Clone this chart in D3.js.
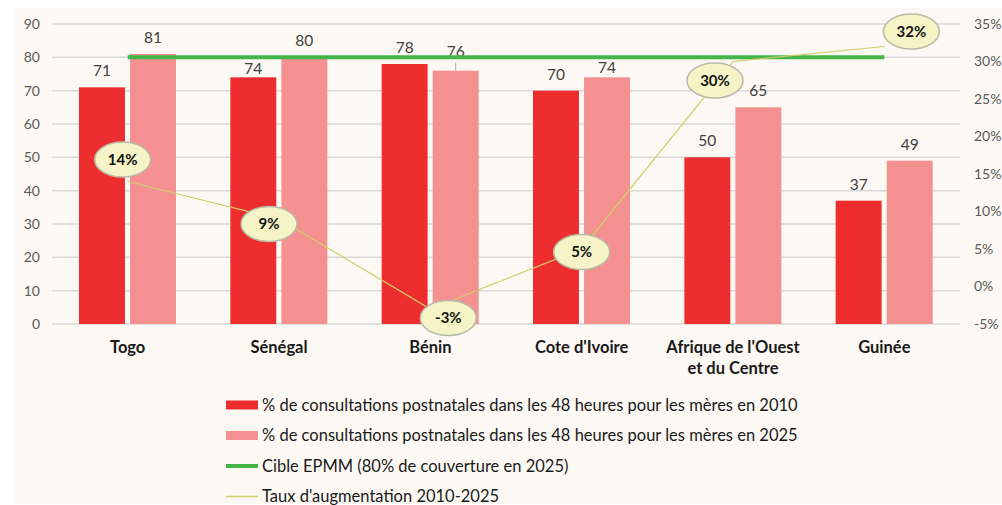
<!DOCTYPE html>
<html>
<head>
<meta charset="utf-8">
<script src="https://cdn.jsdelivr.net/npm/d3@7"></script>
<style>
  body { margin: 0; background: #fff; }
  svg { display: block; font-family: Lato, "Noto Sans", sans-serif; }
</style>
</head>
<body>
<svg id="chart" width="1002" height="505"></svg>
<script>
// postnatal consultations within 48h, 2010 vs 2025
var countries = ['Togo', 'Sénégal', 'Bénin', "Cote d'Ivoire", "Afrique de l'Ouest|et du Centre", 'Guinée'];
var val2010 = [71, 74, 78, 70, 50, 37];
var val2025 = [81, 80, 76, 74, 65, 49];
var target = 80;              // cible EPMM
var growth = [14, 9, -3, 5, 30, 32];  // taux d'augmentation (%)
var leftTicks = [0, 10, 20, 30, 40, 50, 60, 70, 80, 90];
var rightTicks = [-5, 0, 5, 10, 15, 20, 25, 30, 35];

// where Excel put the bubble labels relative to their points
var bubbleOffsets = [[-5, -22], [-10, 5], [18, 9], [0, 3], [-18, 19], [27, -15]];
// a few value labels were dragged by hand (px down, 2010 / 2025)
var nudge2010 = [0, 8, 0, 0, 0, 0];
var nudge2025 = [0, 0, -3, 7, 0, 0];

var colors = { y2010: '#ee2e2e', y2025: '#f49090', target: '#45b447', growth: '#cfcf6a' };

var svg = d3.select('#chart');

svg.append('rect')
  .attr('x', 14).attr('y', 8)
  .attr('width', 988).attr('height', 496)
  .attr('fill', '#fcf9f4');

var x = d3.scaleBand().domain(countries).range([52, 960]);
var x1 = d3.scaleBand().domain(['2010', '2025']).range([27, 124]).paddingInner(0.1);
var y = d3.scaleLinear().domain([0, 90]).range([324, 24]);
var y2 = d3.scaleLinear().domain([-5, 35]).range([324, 24]);

// gridlines
svg.append('g')
  .selectAll('line')
  .data(leftTicks)
  .join('line')
    .attr('x1', 52).attr('x2', 960)
    .attr('y1', function(d) { return y(d); })
    .attr('y2', function(d) { return y(d); })
    .attr('stroke', '#d9d9d9')
    .attr('stroke-width', 1.5);

// left axis
var yAxis = svg.append('g')
  .attr('transform', 'translate(52,0)')
  .call(d3.axisLeft(y).tickValues(leftTicks).tickSize(0).tickPadding(12));
yAxis.select('.domain').remove();
yAxis.selectAll('text').attr('fill', '#595959').style('font-size', '14px').style('font-family', 'Lato, sans-serif');

// right axis
var y2Axis = svg.append('g')
  .attr('transform', 'translate(960,0)')
  .call(d3.axisRight(y2).tickValues(rightTicks).tickSize(0).tickPadding(14)
    .tickFormat(function(d) { return d + '%'; }));
y2Axis.select('.domain').remove();
y2Axis.selectAll('text').attr('fill', '#595959').style('font-size', '14px').style('font-family', 'Lato, sans-serif');

// bars
var groups = svg.append('g')
  .selectAll('g')
  .data(countries)
  .join('g')
    .attr('transform', function(d) { return 'translate(' + x(d) + ',0)'; });

groups.each(function(c, i) {
  var g = d3.select(this);
  var pairs = [['2010', val2010[i], colors.y2010, nudge2010[i]], ['2025', val2025[i], colors.y2025, nudge2025[i]]];
  pairs.forEach(function(p) {
    var mid = x1(p[0]) + x1.bandwidth() / 2;
    g.append('rect')
      .attr('x', x1(p[0]))
      .attr('y', y(p[1]))
      .attr('width', x1.bandwidth())
      .attr('height', y(0) - y(p[1]))
      .attr('fill', p[2]);
    g.append('text')
      .attr('x', mid)
      .attr('y', y(p[1]) - 11 + p[3])
      .attr('text-anchor', 'middle')
      .attr('fill', '#404040')
      .style('font-size', '15.5px')
      .text(p[1]);
    if (p[3] < 0) {
      // leader line like excel draws for moved labels
      g.append('line')
        .attr('x1', mid).attr('x2', mid)
        .attr('y1', y(p[1]) - 8).attr('y2', y(p[1]))
        .attr('stroke', '#a6a6a6').attr('stroke-width', 1);
    }
  });
});

// category labels
svg.append('g')
  .selectAll('text')
  .data(countries)
  .join('text')
    .attr('x', function(d) { return x(d) + x.bandwidth() / 2; })
    .attr('y', 353)
    .attr('text-anchor', 'middle')
    .attr('fill', '#1a1a1a')
    .style('font-size', '16.5px')
    .style('font-weight', 'bold')
    .each(function(d) {
      var parts = d.split('|');
      var t = d3.select(this);
      parts.forEach(function(s, k) {
        t.append('tspan')
          .attr('x', x(d) + x.bandwidth() / 2)
          .attr('dy', k === 0 ? 0 : 21)
          .text(s);
      });
    });

// target line
var cx = function(d) { return x(d) + x.bandwidth() / 2; };
svg.append('line')
  .attr('x1', cx(countries[0]))
  .attr('x2', cx(countries[countries.length - 1]))
  .attr('y1', y(target)).attr('y2', y(target))
  .attr('stroke', colors.target)
  .attr('stroke-width', 4);

// growth line
var line = d3.line()
  .x(function(d, i) { return cx(countries[i]); })
  .y(function(d) { return y2(d); });

svg.append('path')
  .datum(growth)
  .attr('d', line)
  .attr('fill', 'none')
  .attr('stroke', colors.growth)
  .attr('stroke-width', 1.2);

// bubble labels
var bubbles = svg.append('g')
  .selectAll('g')
  .data(growth)
  .join('g')
    .attr('transform', function(d, i) {
      return 'translate(' + (cx(countries[i]) + bubbleOffsets[i][0]) + ',' + (y2(d) + bubbleOffsets[i][1]) + ')';
    });
bubbles.append('ellipse')
  .attr('rx', 28).attr('ry', 17.5)
  .attr('fill', '#f6f4c6')
  .attr('stroke', '#b9b9a8')
  .attr('stroke-width', 1.5);
bubbles.append('text')
  .attr('text-anchor', 'middle')
  .attr('dy', '0.36em')
  .attr('fill', '#111')
  .style('font-size', '15px')
  .style('font-weight', 'bold')
  .text(function(d) { return d + '%'; });

// legend
var legendItems = [
  { label: '% de consultations postnatales dans les 48 heures pour les mères en 2010', type: 'rect', color: colors.y2010 },
  { label: '% de consultations postnatales dans les 48 heures pour les mères en 2025', type: 'rect', color: colors.y2025 },
  { label: 'Cible EPMM (80% de couverture en 2025)', type: 'thick', color: colors.target },
  { label: "Taux d'augmentation 2010-2025", type: 'thin', color: colors.growth }
];

var legend = svg.append('g')
  .selectAll('g')
  .data(legendItems)
  .join('g')
    .attr('transform', function(d, i) { return 'translate(226,' + (405 + i * 30.5) + ')'; });

legend.each(function(d) {
  var g = d3.select(this);
  if (d.type === 'rect') {
    g.append('rect').attr('x', 0).attr('y', -4.5).attr('width', 32).attr('height', 9).attr('fill', d.color);
  } else {
    g.append('line').attr('x1', 0).attr('x2', 32).attr('y1', 0).attr('y2', 0)
      .attr('stroke', d.color).attr('stroke-width', d.type === 'thick' ? 4 : 1.5);
  }
  g.append('text')
    .attr('x', 36)
    .attr('dy', '0.35em')
    .attr('fill', '#1a1a1a')
    .style('font-size', '16.5px')
    .text(d.label);
});
</script>
</body>
</html>
